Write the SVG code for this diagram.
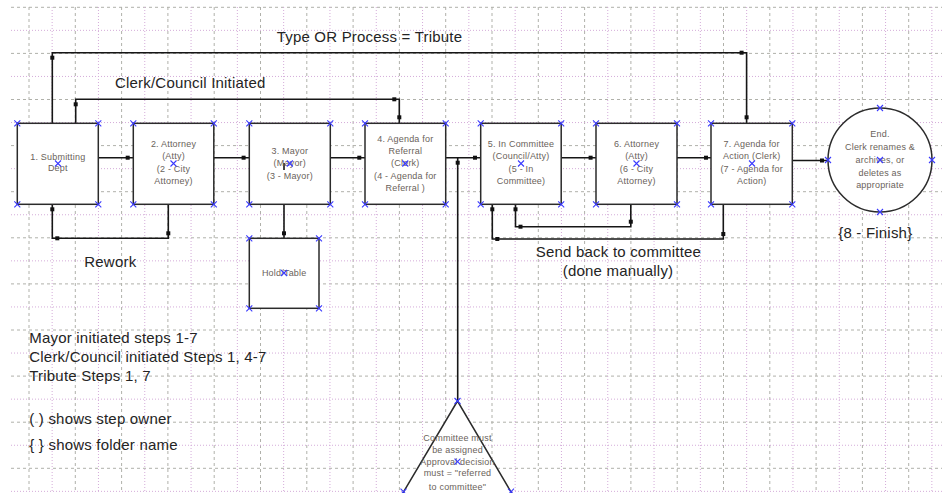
<svg xmlns="http://www.w3.org/2000/svg" width="942" height="493" viewBox="0 0 942 493">
  <style>
    .bg { fill: #ffffff; }
    .gridA { stroke: #b0b1aa; stroke-width: 1; stroke-dasharray: 3 3; fill: none; }
    .gridB { stroke: #d4acd9; stroke-width: 1; stroke-dasharray: 1 2; fill: none; }
    .shape { fill: #ffffff; stroke: #2b2b2b; stroke-width: 1.5; }
    .conn { fill: none; stroke: #161616; stroke-width: 1.6; }
    .dot { fill: #111111; }
    .mark { stroke: #3a3aff; stroke-width: 1.1; fill: none; }
    .ntext { font-family: "Liberation Sans", Arial, sans-serif; font-size: 9px; fill: #6a625a; text-anchor: middle; letter-spacing: 0.2px; }
    .label { font-family: "Liberation Sans", Arial, sans-serif; font-size: 15px; fill: #242424; letter-spacing: 0.2px; }
    .mid { text-anchor: middle; }
  </style>
  <defs>
    <path id="x" class="mark" d="M-3,-3 L3,3 M3,-3 L-3,3"/>
    <rect id="d" class="dot" x="-2" y="-2" width="4" height="4"/>
  </defs>

  <rect class="bg" x="0" y="0" width="942" height="493"/>

  <!-- background grid: alternating dashed / dotted lines -->
  <g id="grid">
    <g class="gridA">
      <path d="M11 7.3H942 M11 53.4H942 M11 99.5H942 M11 145.6H942 M11 191.7H942 M11 237.8H942 M11 283.9H942 M11 330H942 M11 376.1H942 M11 422.2H942 M11 468.3H942"/>
      <path d="M29 7V493 M75.3 7V493 M121.6 7V493 M167.9 7V493 M214.2 7V493 M260.5 7V493 M306.8 7V493 M353.1 7V493 M399.4 7V493 M445.7 7V493 M492 7V493 M538.3 7V493 M584.6 7V493 M630.9 7V493 M677.2 7V493 M723.5 7V493 M769.8 7V493 M816.1 7V493 M862.4 7V493 M908.7 7V493"/>
    </g>
    <g class="gridB">
      <path d="M11 30.35H942 M11 76.45H942 M11 122.55H942 M11 168.65H942 M11 214.75H942 M11 260.85H942 M11 306.95H942 M11 353.05H942 M11 399.15H942 M11 445.25H942 M11 491.35H942"/>
      <path d="M52.15 7V493 M98.45 7V493 M144.75 7V493 M191.05 7V493 M237.35 7V493 M283.65 7V493 M329.95 7V493 M376.25 7V493 M422.55 7V493 M468.85 7V493 M515.15 7V493 M561.45 7V493 M607.75 7V493 M654.05 7V493 M700.35 7V493 M746.65 7V493 M792.95 7V493 M839.25 7V493 M885.55 7V493 M931.85 7V493"/>
    </g>
  </g>

  <!-- connectors -->
  <g id="connectors">
    <path class="conn" d="M98.3 157.7H133.3"/>
    <path class="conn" d="M213.8 157.7H249.3"/>
    <path class="conn" d="M330.3 157.7H365"/>
    <path class="conn" d="M445.7 157.7H480.7"/>
    <path class="conn" d="M561.2 157.7H596"/>
    <path class="conn" d="M677 157.7H711"/>
    <path class="conn" d="M792.3 160.5H827.8"/>
    <path class="conn" d="M52.3 123.3V52.7H746.6V123.3"/>
    <path class="conn" d="M75.7 123.3V99.3H399.3V123.3"/>
    <path class="conn" d="M168.3 204.3V238.3H52.3V204.3"/>
    <path class="conn" d="M284 204.3V238.3"/>
    <path class="conn" d="M457.7 401V157.7"/>
    <path class="conn" d="M630.8 204.3V226.7H515.5V204.3"/>
    <path class="conn" d="M723.3 204.3V239H492.3V204.3"/>
    <g>
      <use href="#d" x="127.7" y="157.7"/>
      <use href="#d" x="243.6" y="157.7"/>
      <use href="#d" x="359.3" y="157.7"/>
      <use href="#d" x="475" y="157.7"/>
      <use href="#d" x="590.6" y="157.7"/>
      <use href="#d" x="706" y="157.7"/>
      <use href="#d" x="822" y="160.5"/>
      <use href="#d" x="52.3" y="57.7"/>
      <use href="#d" x="741.6" y="52.7"/>
      <use href="#d" x="746.6" y="117.3"/>
      <use href="#d" x="75.7" y="104.3"/>
      <use href="#d" x="394.3" y="99.3"/>
      <use href="#d" x="399.3" y="117.3"/>
      <use href="#d" x="168.3" y="233.3"/>
      <use href="#d" x="57.3" y="238.3"/>
      <use href="#d" x="52.3" y="209.3"/>
      <use href="#d" x="284" y="233.3"/>
      <use href="#d" x="457.7" y="162.7"/>
      <use href="#d" x="630.8" y="221.7"/>
      <use href="#d" x="520.5" y="226.7"/>
      <use href="#d" x="515.5" y="209.3"/>
      <use href="#d" x="723.3" y="234"/>
      <use href="#d" x="497.3" y="239"/>
      <use href="#d" x="492.3" y="209.3"/>
    </g>
  </g>

  <!-- step nodes -->
  <g id="step1">
    <rect class="shape" x="17.3" y="123.3" width="81" height="81"/>
    <text class="ntext"><tspan x="57.8" y="159.5">1. Submitting</tspan><tspan x="57.8" y="170.5">Dept</tspan></text>
    <use href="#x" x="17.3" y="123.3"/><use href="#x" x="98.3" y="123.3"/><use href="#x" x="17.3" y="204.3"/><use href="#x" x="98.3" y="204.3"/><use href="#x" x="58" y="163.5"/>
  </g>
  <g id="step2">
    <rect class="shape" x="133.3" y="123.3" width="80.5" height="81"/>
    <text class="ntext"><tspan x="173.5" y="146.5">2. Attorney</tspan><tspan x="173.5" y="158.5">(Atty)</tspan><tspan x="173.5" y="171.5">(2 - City</tspan><tspan x="173.5" y="184">Attorney)</tspan></text>
    <use href="#x" x="133.3" y="123.3"/><use href="#x" x="213.8" y="123.3"/><use href="#x" x="133.3" y="204.3"/><use href="#x" x="213.8" y="204.3"/><use href="#x" x="173.5" y="163.5"/>
  </g>
  <g id="step3">
    <rect class="shape" x="249.3" y="123.3" width="81" height="81"/>
    <path class="conn" d="M284 163V170" stroke-width="1.2"/>
    <text class="ntext"><tspan x="289.8" y="153.8">3. Mayor</tspan><tspan x="289.8" y="166">(Mayor)</tspan><tspan x="289.8" y="178.8">(3 - Mayor)</tspan></text>
    <use href="#x" x="249.3" y="123.3"/><use href="#x" x="330.3" y="123.3"/><use href="#x" x="249.3" y="204.3"/><use href="#x" x="330.3" y="204.3"/><use href="#x" x="289.8" y="163.5"/>
  </g>
  <g id="hold-table">
    <rect class="shape" x="249.3" y="238.3" width="69.7" height="70"/>
    <text class="ntext" x="284.2" y="276">Hold/Table</text>
    <use href="#x" x="249.3" y="238.3"/><use href="#x" x="319" y="238.3"/><use href="#x" x="249.3" y="308.3"/><use href="#x" x="319" y="308.3"/><use href="#x" x="284" y="273"/>
  </g>
  <g id="step4">
    <rect class="shape" x="365" y="123.3" width="80.7" height="81"/>
    <text class="ntext"><tspan x="405.3" y="141.5">4. Agenda for</tspan><tspan x="405.3" y="153.8">Referral</tspan><tspan x="405.3" y="166">(Clerk)</tspan><tspan x="405.3" y="178.8">(4 - Agenda for</tspan><tspan x="405.3" y="190.5">Referral )</tspan></text>
    <use href="#x" x="365" y="123.3"/><use href="#x" x="445.7" y="123.3"/><use href="#x" x="365" y="204.3"/><use href="#x" x="445.7" y="204.3"/><use href="#x" x="405.3" y="163.5"/>
  </g>
  <g id="step5">
    <rect class="shape" x="480.7" y="123.3" width="80.5" height="81"/>
    <text class="ntext"><tspan x="521" y="146.5">5. In Committee</tspan><tspan x="521" y="159">(Council/Atty)</tspan><tspan x="521" y="171.5">(5 - In</tspan><tspan x="521" y="184">Committee)</tspan></text>
    <use href="#x" x="480.7" y="123.3"/><use href="#x" x="561.2" y="123.3"/><use href="#x" x="480.7" y="204.3"/><use href="#x" x="561.2" y="204.3"/><use href="#x" x="521" y="163.5"/>
  </g>
  <g id="step6">
    <rect class="shape" x="596" y="123.3" width="81" height="81"/>
    <text class="ntext"><tspan x="636.5" y="146.5">6. Attorney</tspan><tspan x="636.5" y="159">(Atty)</tspan><tspan x="636.5" y="171.5">(6 - City</tspan><tspan x="636.5" y="184">Attorney)</tspan></text>
    <use href="#x" x="596" y="123.3"/><use href="#x" x="677" y="123.3"/><use href="#x" x="596" y="204.3"/><use href="#x" x="677" y="204.3"/><use href="#x" x="636.5" y="163.5"/>
  </g>
  <g id="step7">
    <rect class="shape" x="711" y="123.3" width="81.3" height="81"/>
    <text class="ntext"><tspan x="751.7" y="146.5">7. Agenda for</tspan><tspan x="751.7" y="159">Action (Clerk)</tspan><tspan x="751.7" y="171.5">(7 - Agenda for</tspan><tspan x="751.7" y="184">Action)</tspan></text>
    <use href="#x" x="711" y="123.3"/><use href="#x" x="792.3" y="123.3"/><use href="#x" x="711" y="204.3"/><use href="#x" x="792.3" y="204.3"/><use href="#x" x="752" y="163.5"/>
  </g>
  <g id="end">
    <circle class="shape" cx="880" cy="160" r="52"/>
    <text class="ntext"><tspan x="880" y="137.3">End.</tspan><tspan x="880" y="150.3">Clerk renames &amp;</tspan><tspan x="880" y="163">archives, or</tspan><tspan x="880" y="175.7">deletes as</tspan><tspan x="880" y="188">appropriate</tspan></text>
    <use href="#x" x="880" y="108"/><use href="#x" x="880" y="212"/><use href="#x" x="828" y="160"/><use href="#x" x="932" y="160"/><use href="#x" x="880" y="160"/>
  </g>
  <g id="committee-check">
    <!-- base edge runs along the lower border of the canvas -->
    <polygon class="shape" points="457.5,401 402.3,494 512.2,494"/>
    <text class="ntext"><tspan x="457.5" y="441.3">Committee must</tspan><tspan x="457.5" y="453">be assigned</tspan><tspan x="457.5" y="464.7">Approval decision</tspan><tspan x="457.5" y="476.3">must = "referred</tspan><tspan x="457.5" y="489.7">to committee"</tspan></text>
    <use href="#x" x="457.5" y="401"/><use href="#x" x="403.5" y="491.7"/><use href="#x" x="511" y="491.7"/><use href="#x" x="457.5" y="461.7"/>
  </g>

  <!-- path labels and legend -->
  <g id="labels">
    <text class="label" x="276.7" y="42.3">Type OR Process = Tribute</text>
    <text class="label" x="115" y="88.3">Clerk/Council Initiated</text>
    <text class="label" x="84.3" y="266.7">Rework</text>
    <text class="label mid" x="618.5" y="256.7">Send back to committee</text>
    <text class="label mid" x="618" y="275.5">(done manually)</text>
    <text class="label mid" x="875.3" y="238.3">{8 - Finish}</text>
    <text class="label" x="29.3" y="343.3">Mayor initiated steps 1-7</text>
    <text class="label" x="29.3" y="361.7">Clerk/Council initiated Steps 1, 4-7</text>
    <text class="label" x="29.3" y="380.5">Tribute Steps 1, 7</text>
    <text class="label" x="29.3" y="423.5">( ) shows step owner</text>
    <text class="label" x="29.3" y="450">{ } shows folder name</text>
  </g>
</svg>
